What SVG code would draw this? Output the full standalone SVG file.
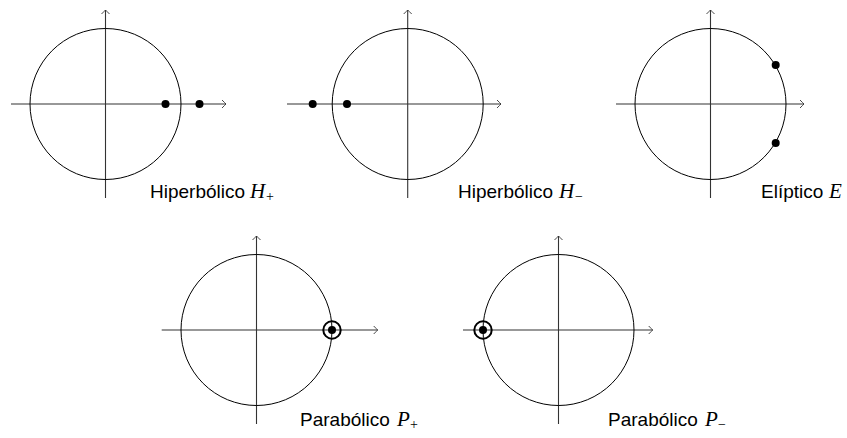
<svg xmlns="http://www.w3.org/2000/svg" width="847" height="438" viewBox="0 0 847 438">
<defs>
<marker id="ah" markerWidth="10" markerHeight="10" refX="0" refY="0" viewBox="-6 -5 8 10" markerUnits="userSpaceOnUse" orient="auto">
<path d="M-4,-4 Q-1,-1 0,0 Q-1,1 -4,4" fill="none" stroke="#333" stroke-width="0.9"/>
</marker>
</defs>
<style>
.ax{stroke:#333;stroke-width:1.1;fill:none;marker-end:url(#ah)}
.c{fill:none;stroke:#000;stroke-width:1}
.d{fill:#000}
.ring{fill:none;stroke:#000;stroke-width:2}
.lb{font-family:"Liberation Sans",Arial,sans-serif;font-size:19px;fill:#000}
.m{font-family:"Liberation Serif","Times New Roman",serif;font-style:italic;font-size:21px;fill:#000}
.s{font-family:"Liberation Serif","Times New Roman",serif;font-size:14px;fill:#000}
</style>
<g id="connectors"/>
<g id="hplus">
<line class="ax" x1="11" y1="104" x2="226" y2="104"/>
<line class="ax" x1="105.5" y1="198" x2="105.5" y2="10"/>
<circle class="c" cx="105.5" cy="104" r="75.5"/>
<circle class="d" cx="165.5" cy="104" r="4"/>
<circle class="d" cx="199.5" cy="104" r="4"/>
<text class="lb" x="150" y="198">Hiperbólico</text>
<text class="m" x="250" y="198">H</text>
<text class="s" x="266" y="201">+</text>
</g>
<g id="hminus">
<line class="ax" x1="287" y1="104" x2="501" y2="104"/>
<line class="ax" x1="407.7" y1="198" x2="407.7" y2="10"/>
<circle class="c" cx="407.7" cy="104" r="75.5"/>
<circle class="d" cx="312.7" cy="104" r="4"/>
<circle class="d" cx="347" cy="104" r="4"/>
<text class="lb" x="458" y="198">Hiperbólico</text>
<text class="m" x="559" y="198">H</text>
<text class="s" x="575" y="201">−</text>
</g>
<g id="eliptico">
<line class="ax" x1="616" y1="104" x2="804" y2="104"/>
<line class="ax" x1="710.5" y1="198" x2="710.5" y2="10"/>
<circle class="c" cx="710.5" cy="104" r="75.5"/>
<circle class="d" cx="775.7" cy="65" r="4"/>
<circle class="d" cx="775.7" cy="143" r="4"/>
<text class="lb" x="761" y="198">Elíptico</text>
<text class="m" x="829" y="198">E</text>
</g>
<g id="pplus">
<line class="ax" x1="161.7" y1="330" x2="377.7" y2="330"/>
<line class="ax" x1="256.5" y1="424" x2="256.5" y2="236"/>
<circle class="c" cx="256.5" cy="330" r="75.5"/>
<circle class="ring" cx="332" cy="330" r="8.7"/>
<circle class="d" cx="332" cy="330" r="4"/>
<text class="lb" x="300" y="426">Parabólico</text>
<text class="m" x="397" y="426">P</text>
<text class="s" x="410" y="429">+</text>
</g>
<g id="pminus">
<line class="ax" x1="463" y1="330" x2="652.7" y2="330"/>
<line class="ax" x1="558.5" y1="424" x2="558.5" y2="236"/>
<circle class="c" cx="558.5" cy="330" r="75.5"/>
<circle class="ring" cx="483" cy="330" r="8.7"/>
<circle class="d" cx="483" cy="330" r="4"/>
<text class="lb" x="608" y="426">Parabólico</text>
<text class="m" x="705" y="426">P</text>
<text class="s" x="718" y="429">−</text>
</g>
</svg>
